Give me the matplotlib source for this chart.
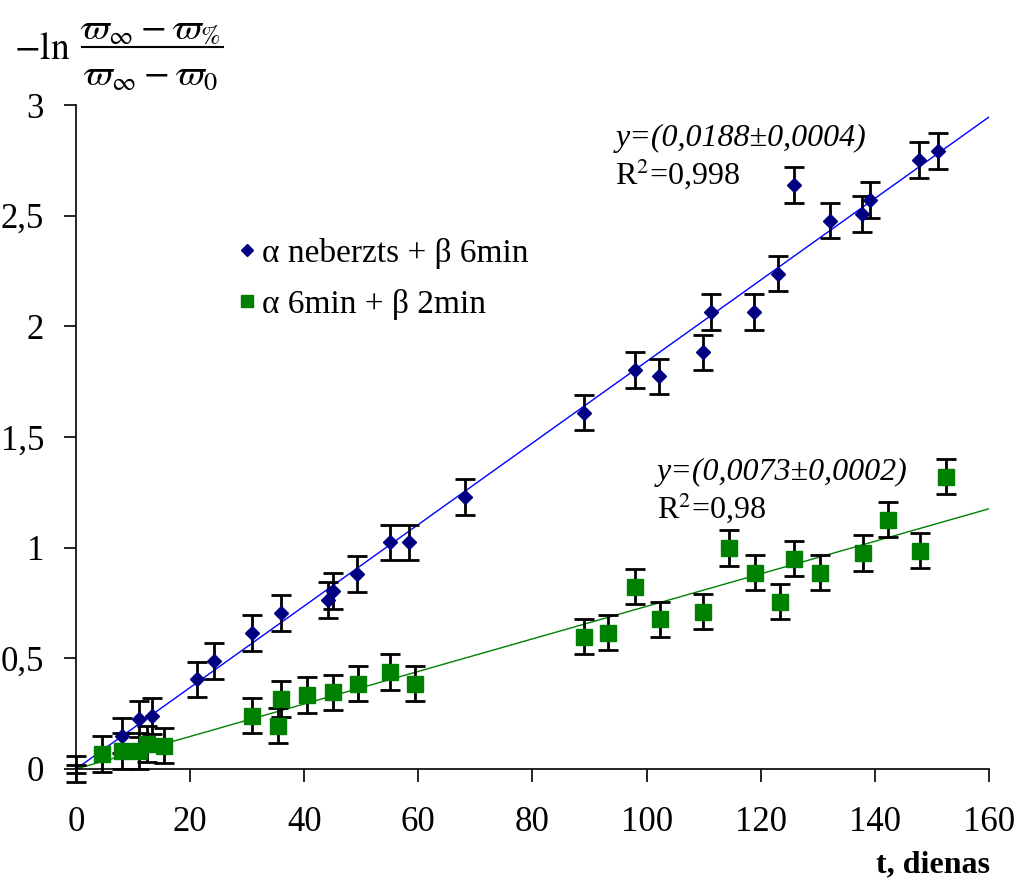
import numpy as np
import matplotlib.pyplot as plt
from matplotlib.lines import Line2D

plt.rcParams['font.family'] = ['Liberation Serif', 'DejaVu Serif']
plt.rcParams['mathtext.fontset'] = 'stix'

# alpha neberzts + beta 6min (blue diamonds)
t_blue = [0, 8.0, 11.0, 13.3, 21.2, 24.2, 30.9, 36.0, 44.2, 45.1, 49.2, 55.0, 58.3,
          68.1, 89.0, 98.0, 102.2, 109.9, 111.2, 118.9, 123.1, 125.9, 132.2, 137.8,
          139.1, 147.8, 151.1]
y_blue = [0.0, 0.15, 0.225, 0.24, 0.405, 0.488, 0.615, 0.704, 0.764, 0.804, 0.881,
          1.024, 1.024, 1.229, 1.61, 1.803, 1.774, 1.883, 2.065, 2.065, 2.238, 2.639,
          2.478, 2.507, 2.571, 2.752, 2.793]
err_blue = [0.06] + [0.08] * 26

# alpha 6min + beta 2min (green squares)
t_green = [0, 4.5, 8.05, 11.0, 12.5, 15.5, 30.9, 35.4, 36.0, 40.4, 45.0, 49.4, 55.0,
           59.4, 89.0, 93.3, 97.9, 102.3, 109.9, 114.4, 119.0, 123.3, 125.9, 130.3,
           137.9, 142.3, 147.9, 152.5]
y_green = [0.0, 0.068, 0.081, 0.081, 0.112, 0.105, 0.241, 0.196, 0.316, 0.334, 0.346,
           0.385, 0.438, 0.385, 0.598, 0.616, 0.824, 0.676, 0.711, 0.999, 0.887, 0.756,
           0.951, 0.887, 0.976, 1.126, 0.986, 1.321]
err_green = [0.02] + [0.08] * 27

labels = ['α neberzts + β 6min', 'α 6min + β 2min']
fit_text = ['y=(0,0188±0,0004)', 'y=(0,0073±0,0002)']
r2_text = ['R$^{2}$=0,998', 'R$^{2}$=0,98']
yticks = [0, 0.5, 1, 1.5, 2, 2.5, 3]
ytick_labels = ['0', '0,5', '1', '1,5', '2', '2,5', '3']
xticks = [0, 20, 40, 60, 80, 100, 120, 140, 160]

fig = plt.figure(figsize=(10.16, 8.84), dpi=100)
ax = fig.add_axes([0.0748, 0.1301, 0.8986, 0.7511])

series = [
    (t_blue, y_blue, err_blue, 'D', '#000080', '#0000FF', 7),
    (t_green, y_green, err_green, 's', '#008000', '#008000', 11),
]
xs = np.array([0, 160])
for i, (t, y, e, m, c, lc, ms) in enumerate(series):
    t = np.array(t)
    y = np.array(y)
    # trendline through origin
    k = np.sum(t * y) / np.sum(t * t)
    ax.plot(xs, k * xs, color=lc, lw=1, zorder=2)
    ax.errorbar(t, y, yerr=e, fmt='none', ecolor='black', elinewidth=2,
                capsize=7, capthick=2, zorder=3, clip_on=False)
    show = y > 0
    ax.plot(t[show], y[show], linestyle='none', marker=m, color=c, ms=ms,
            mec=c, zorder=4)

ax.set_xlim(0, 160)
ax.set_ylim(0, 3)
ax.set_xticks(xticks)
ax.set_yticks(yticks)
ax.set_yticklabels(ytick_labels)
ax.tick_params(axis='both', direction='out', length=9, width=1.2, labelsize=25)
ax.tick_params(axis='x', pad=18)
ax.tick_params(axis='y', pad=14)
for s in ['top', 'right']:
    ax.spines[s].set_visible(False)
for s in ['left', 'bottom']:
    ax.spines[s].set_linewidth(1.2)

ax.text(94.5, 2.85, fit_text[0], style='italic', fontsize=23, va='center')
ax.text(94.5, 2.69, r2_text[0], fontsize=23, va='center')
ax.text(101.8, 1.34, fit_text[1], style='italic', fontsize=23, va='center')
ax.text(101.8, 1.18, r2_text[1], fontsize=23, va='center')

handles = [Line2D([], [], ls='none', marker='D', color='#000080', ms=6),
           Line2D([], [], ls='none', marker='s', color='#008000', ms=9)]
ax.legend(handles, labels, loc='upper left', bbox_to_anchor=(0.1453, 0.845),
          frameon=False, fontsize=24, handlelength=0.5, handletextpad=0.2,
          labelspacing=0.6)

# y-axis title: -ln (w_inf - w_%) / (w_inf - w_0)
fig.text(14 / 1016, 1 - 50 / 884, r'$-\ln$', fontsize=27, ha='left', va='center')
fig.text(150 / 1016, 1 - 30 / 884, r'$\varpi_{\infty}-\varpi_{\%}$', fontsize=27,
         ha='center', va='center')
fig.text(150 / 1016, 1 - 76 / 884, r'$\varpi_{\infty}-\varpi_{0}$', fontsize=27,
         ha='center', va='center')
fig.add_artist(Line2D([82 / 1016, 223 / 1016], [1 - 47 / 884, 1 - 47 / 884],
                      color='black', lw=1.5))

fig.text(990 / 1016, 1 - 865 / 884, 't, dienas', fontsize=23, fontweight='bold',
         ha='right', va='center')

fig.savefig('out.png', dpi=100)
